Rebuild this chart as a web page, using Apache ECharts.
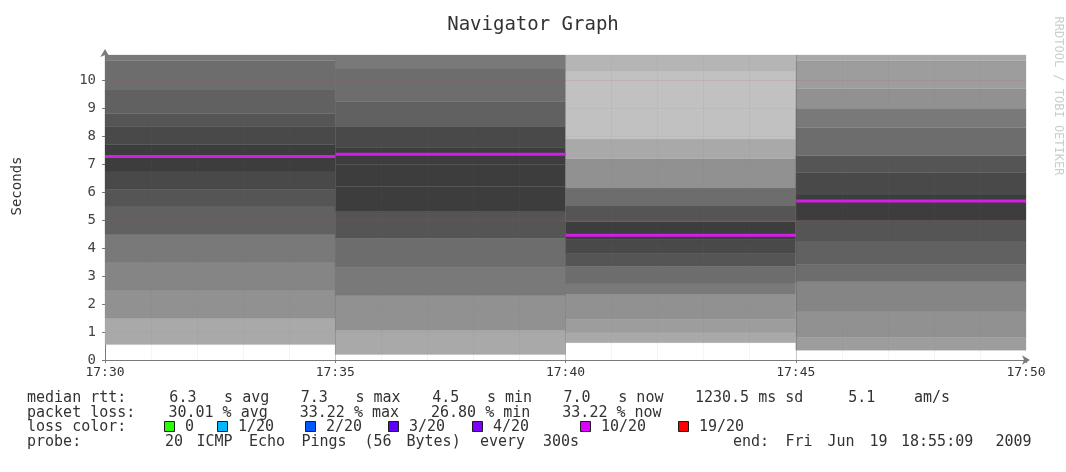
<!DOCTYPE html>
<html>
<head>
<meta charset="utf-8">
<script src="https://cdn.jsdelivr.net/npm/echarts@6/dist/echarts.min.js"></script>
<style>html,body{margin:0;padding:0;background:#fff}#c{width:1066px;height:472px}</style>
</head>
<body>
<div id="c"></div>
<script>
// ---------------- data ----------------
const tickLabels = ['17:30', '17:35', '17:40', '17:45', '17:50'];
const columnStart = ['17:30', '17:35', '17:40', '17:45'];
const columnEnd = ['17:35', '17:40', '17:45', '17:50'];
const medianRtt = [7.27, 7.35, 4.46, 5.68];

// smoke: band edges (seconds) and ping density inside each band
const smokeEdges1730 = [0.55, 1.5, 2.5, 3.5, 4.5, 5.5, 6.1, 6.75, 7.7, 8.35, 8.8, 9.65, 10.7, 12];
const smokeDensity1730 = [3, 5, 6, 7, 9, 10, 11, 12, 11, 10, 9, 8, 7];
const smokeEdges1735 = [0.2, 1.05, 2.3, 3.3, 4.35, 5.3, 6.2, 7.0, 7.6, 8.35, 9.25, 10.4, 12];
const smokeDensity1735 = [3, 5, 7, 8, 10, 12, 12, 12, 11, 9, 8, 7];
const smokeEdges1740 = [0.62, 1.0, 1.45, 2.35, 2.75, 3.35, 3.8, 4.3, 4.95, 5.5, 6.15, 7.2, 7.9, 10.3, 12];
const smokeDensity1740 = [3, 4, 5, 7, 8, 10, 11, 12, 10, 8, 5, 3, 1, 2];
const smokeEdges1745 = [0.35, 0.8, 1.75, 2.8, 3.4, 4.25, 5.0, 5.9, 6.7, 7.3, 8.3, 9.0, 9.7, 10.7, 12];
const smokeDensity1745 = [4, 5, 6, 8, 9, 10, 12, 11, 10, 8, 7, 5, 4, 3];

const lossColors = ['#26ff00', '#00b8ff', '#0059ff', '#5e00ff', '#7e00ff', '#dd00ff', '#ff0000'];
const lossLabels = ['0', '1/20', '2/20', '3/20', '4/20', '10/20', '19/20'];

const legendRtt = 'median rtt:  6.3  s avg  7.3  s max  4.5  s min  7.0  s now  1230.5 ms sd  5.1   am/s';
const legendLoss = 'packet loss:  30.01 % avg  33.22 % max  26.80 % min  33.22 % now';
const legendColorTitle = 'loss color:';
const legendProbeTitle = 'probe:';
const legendProbe = '20 ICMP Echo Pings (56 Bytes) every 300s';
const legendEnd = 'end: Fri Jun 19 18:55:09 2009';
const titleText = 'Navigator Graph';
const yAxisTitle = 'Seconds';
const watermark = 'RRDTOOL / TOBI OETIKER';

// ---------------- helpers ----------------
const toMin = s => { const p = s.split(':').map(Number); return p[0] * 60 + p[1]; };
const base = toMin(tickLabels[0]);
const rel = s => toMin(s) - base;
const xMax = rel(tickLabels[tickLabels.length - 1]);

const smokeColumns = [
  [smokeEdges1730, smokeDensity1730],
  [smokeEdges1735, smokeDensity1735],
  [smokeEdges1740, smokeDensity1740],
  [smokeEdges1745, smokeDensity1745]
];
const smokeData = [];
smokeColumns.forEach((c, i) => {
  const edges = c[0], dens = c[1];
  for (let j = 0; j < dens.length; j++) {
    smokeData.push([rel(columnStart[i]), rel(columnEnd[i]), edges[j], edges[j + 1], dens[j]]);
  }
});
const medianData = medianRtt.map((m, i) => [rel(columnStart[i]), rel(columnEnd[i]), m]);

const FONT = '"DejaVu Sans Mono", "Liberation Mono", monospace';
const X0 = 27;
const LINE_Y = [398, 413, 427, 442];

// place text groups; "groups" = runs separated by 2+ spaces, or single words
function tokens(str, x0, pitch, y, size, byWord) {
  const out = [];
  const re = byWord ? /\S+/g : /\S+(?: \S+)*/g;
  let m;
  while ((m = re.exec(str))) {
    out.push({
      type: 'text', x: x0 + m.index * pitch, y: y, silent: true,
      style: { text: m[0], font: size + 'px ' + FONT, fill: '#333',
        textAlign: 'left', textVerticalAlign: 'middle', align: 'left', verticalAlign: 'middle' }
    });
  }
  return out;
}

const graphics = [];
const push = arr => arr.forEach(g => graphics.push(g));
push(tokens(legendRtt, X0, 10.95, LINE_Y[0], 15, false));
push(tokens(legendLoss, X0, 10.1, LINE_Y[1], 15, false));
push(tokens(legendColorTitle, X0, 10, LINE_Y[2], 15, false));
const lossBoxX = [164, 217, 305, 388, 472, 580, 678];
lossColors.forEach((col, i) => {
  graphics.push({ type: 'rect', silent: true,
    shape: { x: lossBoxX[i] + 0.5, y: LINE_Y[2] - 5.5, width: 10, height: 10 },
    style: { fill: col, stroke: '#1a1a1a', lineWidth: 1 } });
  push(tokens(lossLabels[i], lossBoxX[i] + 21, 10, LINE_Y[2], 15, false));
});
push(tokens(legendProbeTitle, X0, 10, LINE_Y[3], 15, false));
push(tokens(legendProbe, 165, 10.5, LINE_Y[3], 15, true));
push(tokens(legendEnd, 733, 10.5, LINE_Y[3], 15, true));
graphics.push({ type: 'text', x: 17, y: 186, rotation: Math.PI / 2, silent: true,
  style: { text: yAxisTitle, font: '14px ' + FONT, fill: '#333',
    textAlign: 'center', textVerticalAlign: 'middle', align: 'center', verticalAlign: 'middle' } });
graphics.push({ type: 'text', x: 1058, y: 96, rotation: -Math.PI / 2, silent: true,
  style: { text: watermark, font: '12px ' + FONT, fill: '#cdcdcd',
    textAlign: 'center', textVerticalAlign: 'middle', align: 'center', verticalAlign: 'middle' } });

// grid lines drawn over the smoke (rrdtool style)
const gridLines = [];
for (let m = 1; m < xMax; m++) {
  gridLines.push({ xAxis: m, lineStyle: m % 5 === 0
    ? { color: 'rgba(95,85,85,0.32)', width: 1, type: 'solid' }
    : { color: 'rgba(110,110,110,0.14)', width: 1, type: 'dotted' } });
}
for (let v = 1; v <= 10; v++) {
  gridLines.push({ yAxis: v, lineStyle: v % 5 === 0
    ? { color: 'rgba(190,80,80,0.15)', width: 1, type: 'solid' }
    : { color: 'rgba(110,110,110,0.10)', width: 1, type: 'dotted' } });
}

function renderSmoke(params, api) {
  const p0 = api.coord([api.value(0), api.value(2)]);
  const p1 = api.coord([api.value(1), api.value(3)]);
  const cs = params.coordSys;
  const rect = echarts.graphic.clipRectByRect(
    { x: p0[0], y: p1[1], width: p1[0] - p0[0], height: p0[1] - p1[1] },
    { x: cs.x, y: cs.y, width: cs.width, height: cs.height });
  if (!rect) return;
  const g = Math.max(0, Math.min(255, Math.round(205 - 12 * api.value(4))));
  const c = 'rgb(' + g + ',' + g + ',' + g + ')';
  return { type: 'rect', shape: rect, style: { fill: c, stroke: c, lineWidth: 0.3 } };
}

function renderMedian(params, api) {
  const p0 = api.coord([api.value(0), api.value(2)]);
  const p1 = api.coord([api.value(1), api.value(2)]);
  return { type: 'rect', shape: { x: p0[0], y: p0[1] - 1.5, width: p1[0] - p0[0], height: 3 },
    style: { fill: '#d21ee6' } };
}

const chart = echarts.init(document.getElementById('c'));
chart.setOption({
  animation: false,
  backgroundColor: '#ffffff',
  title: { text: titleText, left: 'center', top: 11,
    textStyle: { fontFamily: FONT, fontSize: 19, fontWeight: 'normal', color: '#333' } },
  grid: { left: 105, right: 40, top: 55, bottom: 112, containLabel: false },
  xAxis: {
    type: 'value', min: 0, max: xMax, interval: 5,
    axisLine: { show: true, lineStyle: { color: '#7a7a7a', width: 1 },
      symbol: ['none', 'arrow'], symbolSize: [7, 8], symbolOffset: [0, 4] },
    axisTick: { show: true, length: 3, lineStyle: { color: '#7a7a7a' } },
    axisLabel: { margin: 6, fontFamily: FONT, fontSize: 13, color: '#333',
      formatter: v => tickLabels[Math.round(v / 5)] || '' },
    splitLine: { show: false }
  },
  yAxis: {
    type: 'value', min: 0, max: 10.9, interval: 1,
    axisLine: { show: true, lineStyle: { color: '#7a7a7a', width: 1 },
      symbol: ['none', 'arrow'], symbolSize: [7, 8], symbolOffset: [0, 6] },
    axisTick: { show: true, length: 3, lineStyle: { color: '#7a7a7a' } },
    axisLabel: { margin: 9, fontFamily: FONT, fontSize: 14, color: '#444', showMaxLabel: false,
      formatter: v => (Number.isInteger(v) ? String(v) : '') },
    splitLine: { show: false }
  },
  graphic: graphics,
  series: [
    { type: 'custom', name: 'smoke', renderItem: renderSmoke, data: smokeData, z: 2, silent: true,
      encode: { x: [0, 1], y: [2, 3] } },
    { type: 'custom', name: 'median rtt', renderItem: renderMedian, data: medianData, z: 4, silent: true,
      encode: { x: [0, 1], y: 2 },
      markLine: { silent: true, symbol: ['none', 'none'], label: { show: false }, animation: false,
        data: gridLines } }
  ]
});
</script>
</body>
</html>
